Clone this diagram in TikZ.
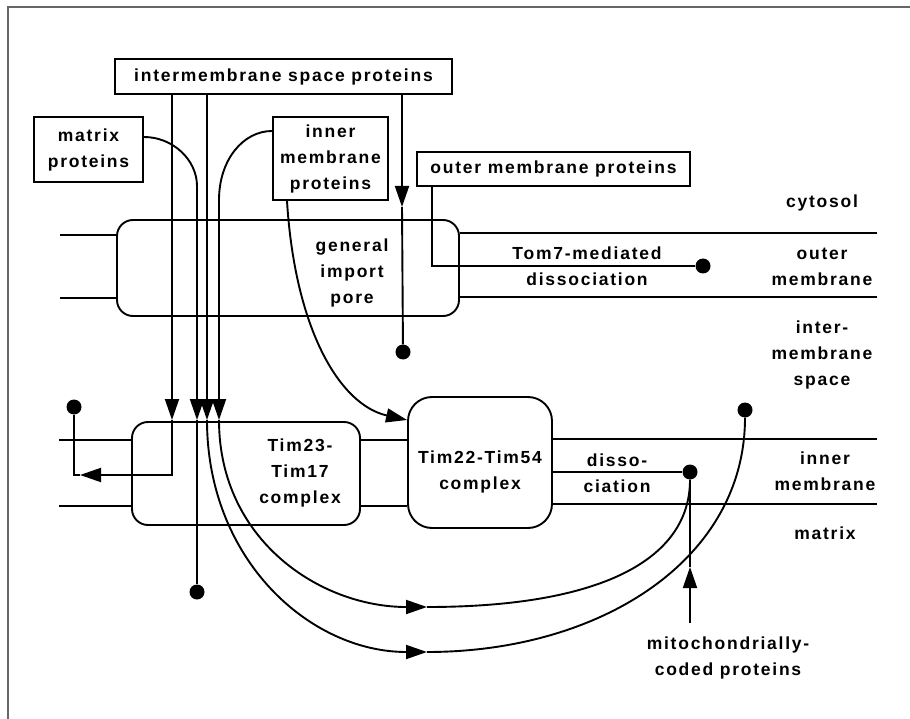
\documentclass[tikz,border=0pt]{standalone}
\usepackage{fontspec}
\setmainfont{Liberation Sans}[LetterSpace=10]
\usepackage{tikz}
\usetikzlibrary{positioning,calc,arrows.meta}
\tikzstyle{line} = [draw,line width=1.9pt]
\tikzstyle{memb} = [draw,line width=1.9pt]
\tikzstyle{protbox} = [draw,line width=1.9pt,inner sep=0pt,align=center]
\tikzstyle{cplx} = [draw,line width=1.9pt,rounded corners=16pt,inner sep=0pt]
\tikzstyle{lbl} = [align=center,inner sep=0pt]
\tikzstyle{dot} = [circle,fill,inner sep=0pt,minimum size=15pt]
\tikzstyle{arr} = [-{Triangle[length=21pt,width=14pt]}]

\begin{document}
\begin{tikzpicture}[x=1pt,y=-1pt,font=\fontsize{17.5}{26}\selectfont\bfseries]
\useasboundingbox (0,0) rectangle (910,719);
\draw[gray!80!black,line width=2pt] (8,719) -- (8,7) -- (910,7);

% where the proteins come from
\node[protbox,minimum width=337pt,minimum height=35pt] (ims) at (283.5,76.5) {intermembrane space proteins};
\node[protbox,minimum width=109pt,minimum height=65pt] (mat) at (88.5,149.5) {matrix\\proteins};
\node[protbox,minimum width=115pt,minimum height=83pt] (imp) at (330.5,158.5) {inner\\membrane\\proteins};
\node[protbox,minimum width=273pt,minimum height=34pt] (omp) at (553.5,169) {outer membrane proteins};

% translocases
\node[cplx,minimum width=342pt,minimum height=96pt] (pore) at (288,268) {};
\node[cplx,minimum width=228pt,minimum height=103pt] (t23) at (246,473.5) {};
\node[cplx,rounded corners=24pt,minimum width=144pt,minimum height=131pt] (t22) at (480,462.5) {};
\node[lbl] (porelbl) at (352,273) {general\\import\\pore};
\node[lbl] (t23lbl) at (300,473) {Tim23-\\Tim17\\complex};
\node[lbl] (t22lbl) at (480,472) {Tim22-Tim54\\complex};

% membranes
\draw[memb] (60,235) -- (pore.west |- 0,235);
\draw[memb] (60,298) -- (pore.west |- 0,298);
\draw[memb] (pore.east |- 0,233) -- (877,233);
\draw[memb] (pore.east |- 0,297) -- (877,297);
\draw[memb] (59,440) -- (t23.west |- 0,440);
\draw[memb] (59,506) -- (t23.west |- 0,506);
\draw[memb] (t23.east |- 0,440) -- (t22.west |- 0,440);
\draw[memb] (t23.east |- 0,506) -- (t22.west |- 0,506);
\draw[memb] (t22.east |- 0,439) -- (877,439);
\draw[memb] (t22.east |- 0,504) -- (877,504);

% compartments
\node[lbl] (cyt) at (822,203) {cytosol};
\node[lbl] (om) at (822,267) {outer\\membrane};
\node[lbl] (ims2) at (822,355) {inter-\\membrane\\space};
\node[lbl] (im) at (825,471) {inner\\membrane};
\node[lbl] (mtx) at (825,533) {matrix};

% end points
\node[dot] (dA) at (74,407) {};
\node[dot] (dB) at (197,592) {};
\node[dot] (dC) at (403,352) {};
\node[dot] (dD) at (703,266) {};
\node[dot] (dE) at (690,472) {};
\node[dot] (dF) at (745,410) {};

% stop-transfer into the inner membrane
\coordinate (a1) at (172,420);
\coordinate (a2) at (172,475);
\coordinate (a3) at (80,475);
\draw[line,arr] (ims.south -| a1) -- (a1);
\draw[line,arr] (a1) -- (a2) -- (a3);
\draw[line] (dA) -- (dA |- a3) -- (a3);

% matrix proteins
\coordinate (m1) at (197,420);
\draw[line,arr] ([yshift=12.5pt]mat.east) .. controls (173,137) and (197,160) .. (197,186) -- (m1);
\draw[line] (m1) -- (dB);

% through the matrix back out
\coordinate (b1) at (207,420);
\coordinate (b2) at (427,652);
\draw[line,arr] (ims.south -| b1) -- (b1);
\draw[line,arr] (b1) .. controls (207,560) and (310,652) .. (b2);
\draw[line] (b2) .. controls (600,652) and (745,560) .. (dF);

% inner membrane proteins via Tim23
\coordinate (c1) at (219,420);
\coordinate (c2) at (427,607);
\draw[line,arr] ([yshift=27.5pt]imp.west) .. controls (243,131) and (219,160) .. (219,200) -- (c1);
\draw[line,arr] (c1) .. controls (219,540) and (320,607) .. (c2);
\draw[line] (c2) .. controls (600,607) and (690,560) .. (dE);

% inner membrane proteins via Tim22
\draw[line,arr] ([xshift=-43.5pt]imp.south) .. controls (295,330) and (340,405) .. (t22.west |- 0,420);

% intermembrane space proteins through the pore
\coordinate (e1) at (402,207);
\draw[line,arr] (ims.south -| e1) -- (e1);
\draw[line] (e1) -- (dC);

% outer membrane proteins
\coordinate (o1) at (432,266);
\draw[line] (omp.south -| o1) -- (o1) -- (dD);
\node[lbl] (tom7) at (587,266) {Tom7-mediated\\dissociation};

% dissociation from Tim22
\draw[line] (t22.east |- dE) -- (dE);
\node[lbl] (diss) at (617,473) {disso-\\ciation};

% mitochondrially-coded proteins
\node[lbl] (mito) at (728,658) {mitochondrially-\\coded proteins};
\coordinate (f0) at (690,623);
\coordinate (f1) at (690,567);
\draw[line,arr] (f0) -- (f1);
\draw[line] (f1) -- (dE);
\end{tikzpicture}
\end{document}
